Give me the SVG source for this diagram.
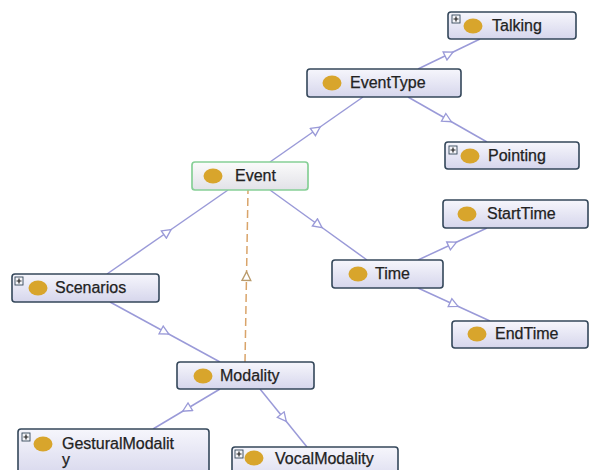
<svg xmlns="http://www.w3.org/2000/svg" width="590" height="470" viewBox="0 0 590 470">
<defs>
<linearGradient id="nodeFill" x1="0" y1="0" x2="0" y2="1">
<stop offset="0" stop-color="#f6f6fc"/>
<stop offset="1" stop-color="#d6d6ec"/>
</linearGradient>
<linearGradient id="selFill" x1="0" y1="0" x2="0" y2="1">
<stop offset="0" stop-color="#fbfbfb"/>
<stop offset="1" stop-color="#e2e2e8"/>
</linearGradient>
<marker id="tri" viewBox="0 0 10 10" refX="5" refY="5" markerWidth="13" markerHeight="11" markerUnits="userSpaceOnUse" orient="auto">
<path d="M1,1 L9,5 L1,9 z" fill="#ffffff" stroke="#9a9ad8" stroke-width="1.2"/>
</marker>
<marker id="triDash" viewBox="0 0 10 10" refX="5" refY="5" markerWidth="13" markerHeight="11" markerUnits="userSpaceOnUse" orient="auto">
<path d="M1,1 L9,5 L1,9 z" fill="#ffffff" stroke="#b99a6a" stroke-width="1.2"/>
</marker>
</defs>
<style>
.node rect.box{fill:url(#nodeFill);stroke:#34475a;stroke-width:1.6}
.node rect.sel{fill:url(#selFill);stroke:#86cf96;stroke-width:1.7}
.dot{fill:#d8a52c}
.lbl{font-family:"Liberation Sans",Arial,sans-serif;font-size:16px;fill:#222;stroke:#222;stroke-width:0.25}
.plus rect{fill:#f4f4f8;stroke:#34475a;stroke-width:0.9}
.plus path{stroke:#222;stroke-width:1.2}
.edge{fill:none;stroke:#9a9ad8;stroke-width:1.5;marker-mid:url(#tri)}
.dash{fill:none;stroke:#d9a46a;stroke-width:1.5;stroke-dasharray:8 4;marker-mid:url(#triDash)}
</style>
<rect width="590" height="470" fill="#ffffff"/>
<g id="connectors">
<polyline class="edge" points="270,162 316.5,129.5 363,97"/>
<polyline class="edge" points="418,69 449,54 480,39"/>
<polyline class="edge" points="408,97 447.5,119.5 487,142"/>
<polyline class="edge" points="107,274 167.5,232 228,190"/>
<polyline class="edge" points="270,190 318.5,225 367,260"/>
<polyline class="edge" points="418,260 452.5,244 487,228"/>
<polyline class="edge" points="418,288 454,304.5 490,321"/>
<polyline class="edge" points="110,302 165,332 220,362"/>
<polyline class="dash" points="245,362 246.5,276 248,190"/>
<polyline class="edge" points="220,389 186.5,409 153,429"/>
<polyline class="edge" points="260,389 283.5,418 307,447"/>
</g>
<g id="node-Talking" class="node">
<rect class="box" x="448" y="12" width="128" height="27" rx="3"/>
<g class="plus"><rect x="452" y="15" width="8" height="8"/><path d="M453.5,19 H458.5 M456,16.5 V21.5"/></g>
<ellipse class="dot" cx="473" cy="26" rx="9.5" ry="7.5"/>
<text class="lbl" x="492" y="31">Talking</text>
</g>
<g id="node-EventType" class="node">
<rect class="box" x="307" y="69" width="154" height="28" rx="3"/>
<ellipse class="dot" cx="332" cy="83" rx="9.5" ry="7.5"/>
<text class="lbl" x="350" y="88">EventType</text>
</g>
<g id="node-Pointing" class="node">
<rect class="box" x="445" y="142" width="134" height="27" rx="3"/>
<g class="plus"><rect x="449" y="146" width="8" height="8"/><path d="M450.5,150 H455.5 M453,147.5 V152.5"/></g>
<ellipse class="dot" cx="470" cy="156" rx="9.5" ry="7.5"/>
<text class="lbl" x="488" y="161">Pointing</text>
</g>
<g id="node-Event" class="node">
<rect class="sel" x="192" y="162" width="116" height="28" rx="3"/>
<ellipse class="dot" cx="213" cy="176" rx="9.5" ry="7.5"/>
<text class="lbl" x="235" y="181">Event</text>
</g>
<g id="node-Scenarios" class="node">
<rect class="box" x="12" y="274" width="147" height="28" rx="3"/>
<g class="plus"><rect x="15" y="277" width="8" height="8"/><path d="M16.5,281 H21.5 M19,278.5 V283.5"/></g>
<ellipse class="dot" cx="38" cy="288" rx="9.5" ry="7.5"/>
<text class="lbl" x="55" y="293">Scenarios</text>
</g>
<g id="node-StartTime" class="node">
<rect class="box" x="443" y="200" width="145" height="28" rx="3"/>
<ellipse class="dot" cx="467" cy="214" rx="9.5" ry="7.5"/>
<text class="lbl" x="487" y="219">StartTime</text>
</g>
<g id="node-Time" class="node">
<rect class="box" x="332" y="260" width="111" height="28" rx="3"/>
<ellipse class="dot" cx="358" cy="274" rx="9.5" ry="7.5"/>
<text class="lbl" x="375" y="279">Time</text>
</g>
<g id="node-EndTime" class="node">
<rect class="box" x="452" y="321" width="136" height="27" rx="3"/>
<ellipse class="dot" cx="477" cy="334" rx="9.5" ry="7.5"/>
<text class="lbl" x="495" y="339">EndTime</text>
</g>
<g id="node-Modality" class="node">
<rect class="box" x="177" y="362" width="137" height="27" rx="3"/>
<ellipse class="dot" cx="203" cy="376" rx="9.5" ry="7.5"/>
<text class="lbl" x="220" y="381">Modality</text>
</g>
<g id="node-GesturalModality" class="node">
<rect class="box" x="18" y="429" width="191" height="50" rx="3"/>
<g class="plus"><rect x="22" y="433" width="8" height="8"/><path d="M23.5,437 H28.5 M26,434.5 V439.5"/></g>
<ellipse class="dot" cx="43" cy="444" rx="9.5" ry="7.5"/>
<text class="lbl" x="62" y="449">GesturalModalit</text>
<text class="lbl" x="62" y="465">y</text>
</g>
<g id="node-VocalModality" class="node">
<rect class="box" x="232" y="447" width="166" height="40" rx="3"/>
<g class="plus"><rect x="235" y="450" width="8" height="8"/><path d="M236.5,454 H241.5 M239,451.5 V456.5"/></g>
<ellipse class="dot" cx="254" cy="458" rx="9.5" ry="7.5"/>
<text class="lbl" x="275" y="464">VocalModality</text>
</g>
</svg>
